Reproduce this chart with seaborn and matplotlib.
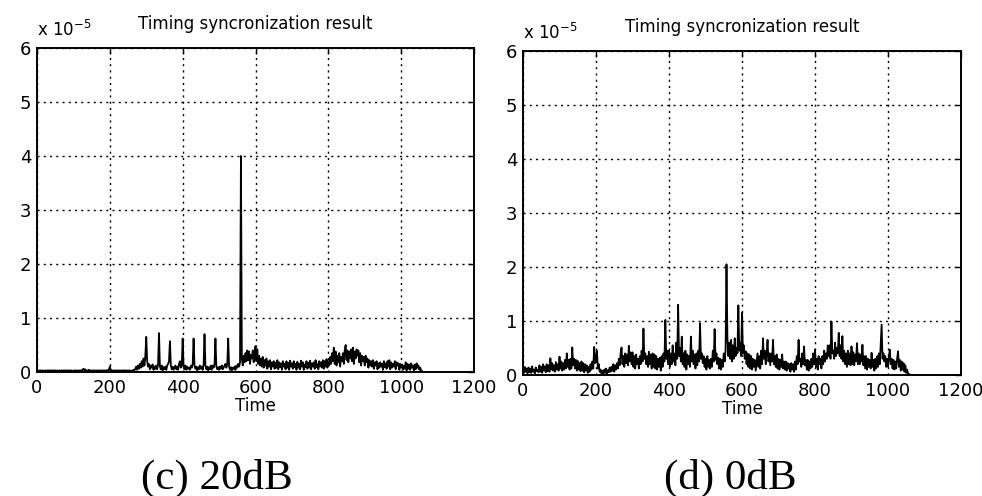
import numpy as np
import pandas as pd
import matplotlib
matplotlib.use("Agg")
import matplotlib.pyplot as plt
import seaborn as sns

# sample spacing of the time axis
step = 2.5
title_text = "Timing syncronization result"
xlabel_text = "Time"
captions = ["(c) 20dB", "(d) 0dB"]
xticks = [0, 200, 400, 600, 800, 1000, 1200]
yticks = [0, 1, 2, 3, 4, 5, 6]

# values in units of 1e-5, one per time sample (every 2.5 units), 8 per row = 20 time units
snr20 = [
    0.03, 0.02, 0.03, 0.02, 0.03, 0.02, 0.03, 0.02,
    0.02, 0.03, 0.02, 0.03, 0.02, 0.03, 0.02, 0.03,
    0.03, 0.02, 0.03, 0.02, 0.03, 0.02, 0.03, 0.02,
    0.02, 0.03, 0.02, 0.03, 0.02, 0.03, 0.02, 0.03,
    0.03, 0.02, 0.03, 0.02, 0.03, 0.02, 0.03, 0.02,
    0.02, 0.03, 0.02, 0.03, 0.02, 0.03, 0.02, 0.03,
    0.03, 0.02, 0.04, 0.06, 0.03, 0.05, 0.03, 0.02,
    0.03, 0.04, 0.02, 0.03, 0.02, 0.03, 0.02, 0.03,
    0.02, 0.03, 0.02, 0.03, 0.02, 0.03, 0.02, 0.03,
    0.03, 0.02, 0.03, 0.02, 0.03, 0.02, 0.04, 0.03,
    0.10, 0.04, 0.02, 0.03, 0.02, 0.03, 0.02, 0.03,
    0.02, 0.03, 0.02, 0.03, 0.02, 0.03, 0.02, 0.03,
    0.03, 0.02, 0.03, 0.02, 0.03, 0.02, 0.03, 0.02,
    0.02, 0.03, 0.04, 0.03, 0.06, 0.10, 0.04, 0.12,
    0.06, 0.15, 0.08, 0.20, 0.10, 0.25, 0.12, 0.30,
    0.65, 0.20, 0.10, 0.15, 0.05, 0.12, 0.08, 0.14,
    0.04, 0.10, 0.06, 0.12, 0.05, 0.15, 0.72, 0.10,
    0.05, 0.12, 0.03, 0.09, 0.05, 0.10, 0.04, 0.12,
    0.15, 0.20, 0.57, 0.12, 0.05, 0.10, 0.04, 0.08,
    0.12, 0.05, 0.10, 0.04, 0.15, 0.20, 0.08, 0.12,
    0.62, 0.10, 0.05, 0.12, 0.04, 0.10, 0.06, 0.08,
    0.04, 0.12, 0.08, 0.15, 0.62, 0.12, 0.06, 0.10,
    0.03, 0.09, 0.05, 0.12, 0.06, 0.10, 0.04, 0.14,
    0.70, 0.12, 0.05, 0.10, 0.03, 0.09, 0.05, 0.12,
    0.04, 0.12, 0.08, 0.15, 0.62, 0.10, 0.05, 0.09,
    0.04, 0.10, 0.06, 0.12, 0.05, 0.08, 0.12, 0.15,
    0.08, 0.14, 0.62, 0.10, 0.04, 0.09, 0.03, 0.08,
    0.05, 0.10, 0.04, 0.12, 0.08, 0.15, 0.10, 0.18,
    4.00, 0.25, 0.12, 0.30, 0.18, 0.35, 0.20, 0.40,
    0.22, 0.38, 0.15, 0.32, 0.25, 0.40, 0.18, 0.35,
    0.48, 0.20, 0.42, 0.15, 0.30, 0.12, 0.25, 0.10,
    0.28, 0.08, 0.22, 0.12, 0.25, 0.06, 0.20, 0.10,
    0.22, 0.05, 0.18, 0.10, 0.20, 0.06, 0.17, 0.08,
    0.22, 0.05, 0.18, 0.09, 0.16, 0.04, 0.20, 0.10,
    0.15, 0.05, 0.20, 0.08, 0.17, 0.04, 0.21, 0.10,
    0.16, 0.06, 0.20, 0.09, 0.15, 0.04, 0.19, 0.08,
    0.15, 0.05, 0.21, 0.10, 0.18, 0.04, 0.14, 0.09,
    0.20, 0.06, 0.17, 0.08, 0.21, 0.05, 0.16, 0.10,
    0.18, 0.06, 0.22, 0.09, 0.15, 0.05, 0.20, 0.10,
    0.18, 0.08, 0.22, 0.06, 0.20, 0.10, 0.24, 0.08,
    0.20, 0.12, 0.28, 0.15, 0.35, 0.20, 0.45, 0.15,
    0.38, 0.12, 0.30, 0.18, 0.35, 0.10, 0.28, 0.20,
    0.35, 0.15, 0.40, 0.50, 0.22, 0.40, 0.18, 0.38,
    0.25, 0.42, 0.20, 0.45, 0.15, 0.38, 0.25, 0.42,
    0.30, 0.40, 0.18, 0.35, 0.12, 0.30, 0.20, 0.28,
    0.12, 0.30, 0.18, 0.25, 0.08, 0.22, 0.12, 0.20,
    0.10, 0.22, 0.06, 0.18, 0.12, 0.20, 0.05, 0.16,
    0.08, 0.18, 0.10, 0.15, 0.04, 0.20, 0.09, 0.16,
    0.06, 0.20, 0.10, 0.22, 0.05, 0.18, 0.08, 0.15,
    0.10, 0.20, 0.05, 0.18, 0.12, 0.16, 0.04, 0.15,
    0.08, 0.14, 0.04, 0.12, 0.06, 0.18, 0.03, 0.15,
    0.06, 0.14, 0.04, 0.16, 0.08, 0.12, 0.03, 0.14,
    0.05, 0.16, 0.08, 0.12, 0.04, 0.08, 0.02, 0.02,
]

snr0 = [
    0.10, 0.04, 0.15, 0.06, 0.12, 0.03, 0.14, 0.05,
    0.12, 0.04, 0.16, 0.06, 0.10, 0.03, 0.14, 0.07,
    0.10, 0.05, 0.18, 0.06, 0.15, 0.04, 0.20, 0.08,
    0.16, 0.05, 0.20, 0.07, 0.18, 0.06, 0.31, 0.10,
    0.22, 0.08, 0.18, 0.06, 0.24, 0.10, 0.20, 0.08,
    0.34, 0.12, 0.25, 0.08, 0.22, 0.10, 0.28, 0.12,
    0.40, 0.15, 0.28, 0.10, 0.30, 0.12, 0.51, 0.18,
    0.30, 0.12, 0.28, 0.08, 0.26, 0.10, 0.22, 0.07,
    0.25, 0.08, 0.22, 0.05, 0.20, 0.08, 0.18, 0.04,
    0.15, 0.06, 0.20, 0.10, 0.25, 0.12, 0.52, 0.22,
    0.30, 0.45, 0.12, 0.20, 0.06, 0.10, 0.03, 0.08,
    0.02, 0.10, 0.04, 0.12, 0.03, 0.09, 0.05, 0.14,
    0.06, 0.15, 0.08, 0.20, 0.06, 0.18, 0.10, 0.22,
    0.12, 0.30, 0.18, 0.40, 0.51, 0.20, 0.35, 0.15,
    0.40, 0.22, 0.38, 0.18, 0.54, 0.25, 0.42, 0.20,
    0.42, 0.15, 0.35, 0.12, 0.38, 0.20, 0.30, 0.12,
    0.35, 0.20, 0.45, 0.25, 0.86, 0.30, 0.40, 0.20,
    0.35, 0.15, 0.43, 0.20, 0.38, 0.12, 0.40, 0.15,
    0.38, 0.12, 0.35, 0.10, 0.30, 0.15, 0.32, 0.08,
    0.35, 0.15, 0.40, 0.25, 1.02, 0.30, 0.45, 0.20,
    0.45, 0.15, 0.40, 0.20, 0.55, 0.25, 0.40, 0.18,
    0.60, 0.30, 1.30, 0.35, 0.50, 0.25, 0.71, 0.20,
    0.40, 0.15, 0.45, 0.10, 0.38, 0.20, 0.35, 0.15,
    0.71, 0.25, 0.45, 0.20, 0.38, 0.12, 0.40, 0.18,
    0.45, 0.25, 0.96, 0.30, 0.40, 0.22, 0.35, 0.15,
    0.30, 0.10, 0.35, 0.15, 0.28, 0.12, 0.30, 0.15,
    0.45, 0.25, 0.85, 0.28, 0.40, 0.20, 0.32, 0.12,
    0.30, 0.10, 0.28, 0.15, 0.40, 0.25, 0.45, 2.05,
    0.70, 0.35, 0.60, 0.30, 0.65, 0.25, 0.55, 0.30,
    0.68, 0.35, 0.50, 0.40, 1.29, 0.45, 0.60, 0.35,
    1.15, 0.40, 0.55, 0.30, 0.44, 0.20, 0.40, 0.15,
    0.38, 0.12, 0.35, 0.10, 0.30, 0.15, 0.28, 0.08,
    0.25, 0.40, 0.15, 0.35, 0.12, 0.45, 0.20, 0.68,
    0.30, 0.45, 0.20, 0.40, 0.65, 0.25, 0.40, 0.18,
    0.40, 0.25, 0.65, 0.20, 0.35, 0.15, 0.38, 0.12,
    0.30, 0.10, 0.28, 0.15, 0.38, 0.12, 0.25, 0.10,
    0.25, 0.08, 0.22, 0.12, 0.20, 0.06, 0.22, 0.10,
    0.20, 0.06, 0.25, 0.10, 0.35, 0.20, 0.65, 0.25,
    0.30, 0.15, 0.40, 0.20, 0.53, 0.18, 0.28, 0.10,
    0.28, 0.08, 0.25, 0.12, 0.30, 0.15, 0.40, 0.20,
    0.47, 0.15, 0.30, 0.10, 0.35, 0.20, 0.30, 0.12,
    0.35, 0.20, 0.45, 0.25, 0.40, 0.30, 0.55, 0.35,
    0.55, 0.30, 0.99, 0.40, 0.45, 0.30, 0.60, 0.35,
    0.50, 0.40, 0.78, 0.35, 0.55, 0.30, 0.72, 0.25,
    0.45, 0.20, 0.40, 0.15, 0.45, 0.20, 0.40, 0.18,
    0.53, 0.20, 0.42, 0.18, 0.38, 0.25, 0.59, 0.20,
    0.40, 0.20, 0.38, 0.25, 0.56, 0.18, 0.35, 0.12,
    0.35, 0.10, 0.30, 0.15, 0.28, 0.12, 0.41, 0.15,
    0.28, 0.08, 0.30, 0.12, 0.35, 0.15, 0.40, 0.20,
    0.55, 0.93, 0.30, 0.40, 0.25, 0.35, 0.15, 0.30,
    0.15, 0.35, 0.47, 0.20, 0.30, 0.12, 0.28, 0.10,
    0.25, 0.12, 0.30, 0.44, 0.15, 0.28, 0.08, 0.25,
    0.10, 0.22, 0.06, 0.18, 0.04, 0.10, 0.02, 0.02,
    0.01,
]

series = [snr20, snr0]

sns.set_theme(style="white")
plt.rcParams["font.family"] = ["DejaVu Sans"]

fig = plt.figure(figsize=(9.82, 4.96), dpi=100)
positions = [
    [37 / 982, 1 - 372 / 496, 437 / 982, 324 / 496],
    [523 / 982, 1 - 375 / 496, 438 / 982, 324 / 496],
]
cap_x = [217 / 982, 730 / 982]

for i, (vals, pos) in enumerate(zip(series, positions)):
    ax = fig.add_axes(pos)
    df = pd.DataFrame({"t": np.arange(len(vals)) * step, "v": vals})
    sns.lineplot(data=df, x="t", y="v", ax=ax, color="black",
                 linewidth=1.3, estimator=None, sort=False)
    ax.set_xlim(0, 1200)
    ax.set_ylim(0, 6)
    ax.set_xticks(xticks)
    ax.set_yticks(yticks)
    ax.set_xticklabels([str(v) for v in xticks])
    ax.set_yticklabels([str(v) for v in yticks])
    ax.grid(True, color="black", linestyle=(0, (1.5, 3.0)), linewidth=1.0)
    for s in ax.spines.values():
        s.set_color("black")
        s.set_linewidth(1.4)
    ax.tick_params(axis="both", direction="in", length=4, width=1,
                   labelsize=13, top=True, right=True, colors="black")
    ax.tick_params(axis="x", pad=5)
    ax.tick_params(axis="y", pad=4)
    ax.set_xlabel(xlabel_text, fontsize=12, labelpad=0, color="black")
    ax.set_ylabel("")
    ax.set_title(title_text, fontsize=12, pad=14, color="black")
    ax.text(0.0, 1.025, r"x 10$^{-5}$", transform=ax.transAxes,
            fontsize=12, ha="left", va="bottom", color="black")
    fig.text(cap_x[i], 1 - 478 / 496, captions[i], fontsize=31,
             family=["Liberation Serif", "DejaVu Serif"],
             ha="center", va="center", color="black")

fig.savefig("out.png", dpi=100, facecolor="white")
